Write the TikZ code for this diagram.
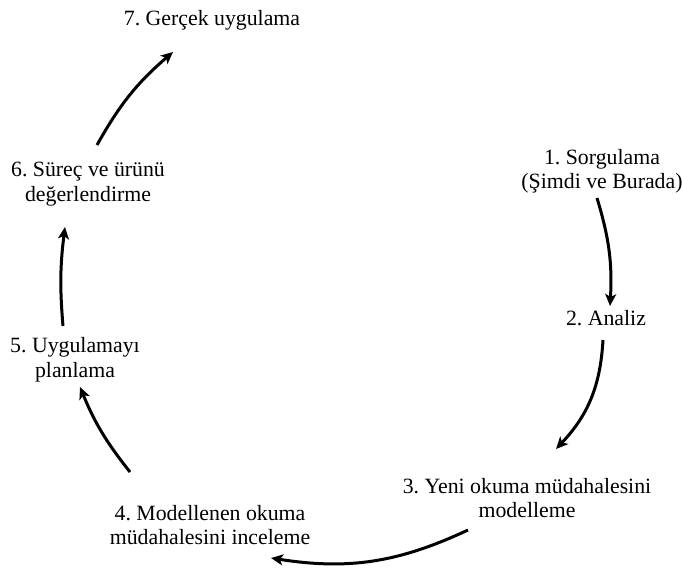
\documentclass[tikz,border=0pt]{standalone}
\usepackage{fontspec}
\setmainfont{Liberation Serif}
\usetikzlibrary{arrows.meta}

\begin{document}
\begin{tikzpicture}[>={Stealth[length=12pt,width=11pt,inset=3pt]}, x=1pt, y=-1pt,
    adim/.style={align=center, inner sep=0pt, font=\fontsize{21.8}{24.5}\selectfont\frenchspacing},
    ok/.style={->, line width=3pt}]
    \useasboundingbox (0,0) rectangle (682,570);

    % aşamalar
    \node[adim] (S1) at (602,171.5) {1. Sorgulama\\(Şimdi ve Burada)};
    \node[adim] (S2) at (606,317.7) {2. Analiz};
    \node[adim] (S3) at (527,498) {3. Yeni okuma müdahalesini\\modelleme};
    \node[adim] (S4) at (210,525) {4. Modellenen okuma\\müdahalesini inceleme};
    \node[adim] (S5) at (75,360) {5. Uygulamayı\\planlama};
    \node[adim] (S6) at (88,184.3) {6. Süreç ve ürünü\\değerlendirme};
    \node[adim] (S7) at (212,20) {7. Gerçek uygulama};

    % okların uçları
    \coordinate (A12) at (597,198);  \coordinate (B12) at (610,306);
    \coordinate (A23) at (603,340);  \coordinate (B23) at (556,449);
    \coordinate (A34) at (468,530);  \coordinate (B34) at (271,558);
    \coordinate (A45) at (130,472);  \coordinate (B45) at (80,387);
    \coordinate (A56) at (63,326);   \coordinate (B56) at (65,227);
    \coordinate (A67) at (97,145);   \coordinate (B67) at (173,52);

    % oklar
    \draw[ok] (A12) to[bend left=10] (B12);
    \draw[ok] (A23) to[bend left=20] (B23);
    \draw[ok] (A34) to[bend left=17] (B34);
    \draw[ok] (A45) to[bend left=8] (B45);
    \draw[ok] (A56) to[bend left=6] (B56);
    \draw[ok] (A67) to[bend left=10] (B67);
\end{tikzpicture}
\end{document}
